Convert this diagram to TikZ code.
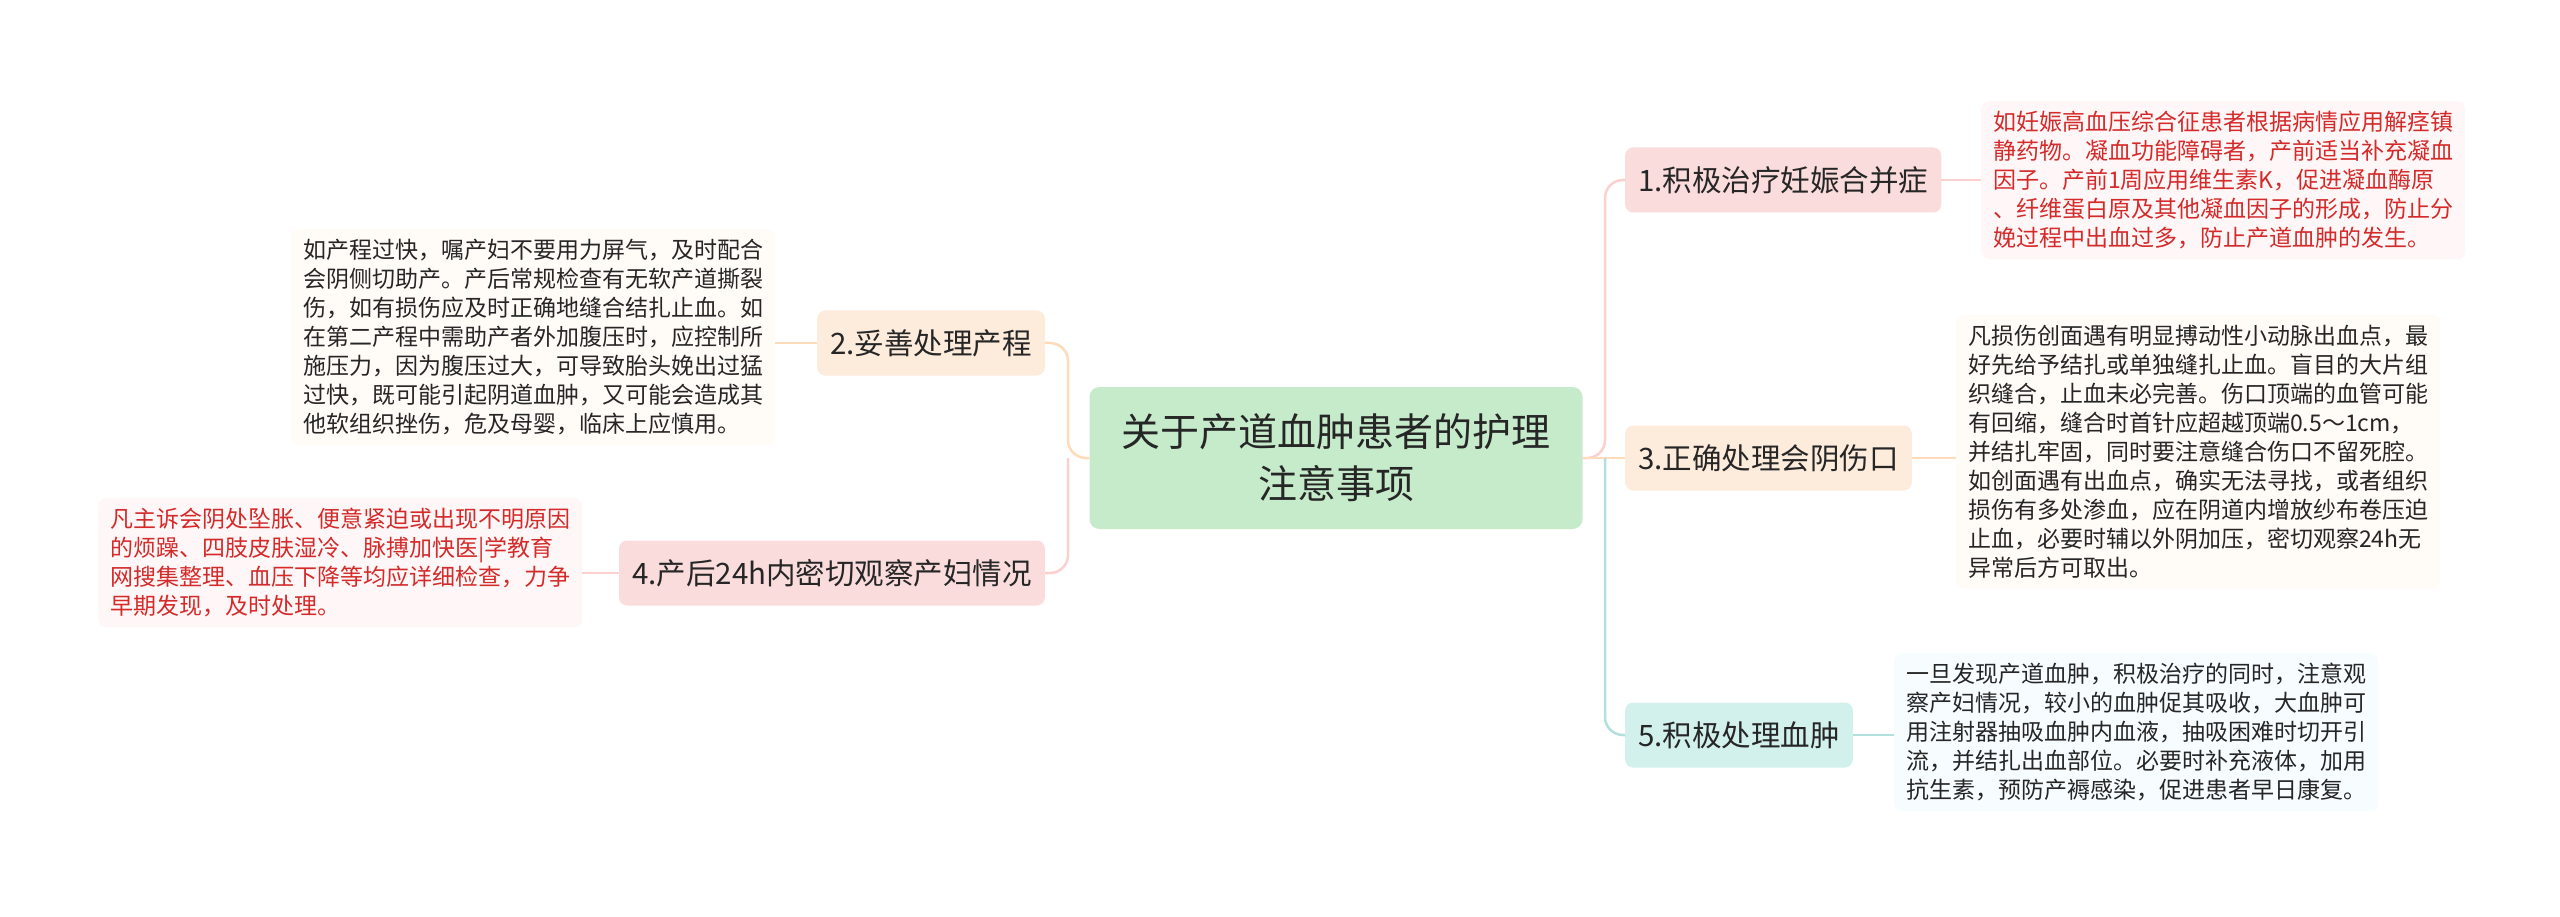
\documentclass[tikz,border=0pt]{standalone}
\usepackage{fontspec}
\setmainfont{Noto Sans CJK SC}
\begin{document}
\begin{tikzpicture}[x=1pt,y=-1pt,
  desc/.style={rounded corners=8pt,inner xsep=12pt,inner ysep=10pt,align=left,font=\fontsize{23}{29}\selectfont,anchor=north west},
  br/.style={rounded corners=8pt,minimum height=65pt,inner xsep=13pt,font=\fontsize{29.5}{32}\selectfont,text=black!85},
  cn/.style={line width=2.5pt,rounded corners=18pt}]
\fill[white] (0,0) rectangle (2560,917);
\useasboundingbox (0,0) rectangle (2560,917);
\definecolor{pinkf}{HTML}{FADCDD}
\definecolor{peachf}{HTML}{FDEBDC}
\definecolor{tealf}{HTML}{D2F1EC}
\definecolor{greenf}{HTML}{C6EBCB}
\definecolor{redt}{HTML}{D42A2A}
\node[rounded corners=10pt,fill=greenf,minimum width=493pt,minimum height=142pt,align=center,font=\fontsize{39}{52}\selectfont,text=black!85] (c) at (1336,458) {关于产道血肿患者的护理\\注意事项};
\node[br,fill=pinkf,anchor=west] (b1) at (1625,180) {1.积极治疗妊娠合并症};
\node[br,fill=peachf,anchor=west] (b3) at (1625,458) {3.正确处理会阴伤口};
\node[br,fill=tealf,anchor=west] (b5) at (1625,735) {5.积极处理血肿};
\node[br,fill=peachf,anchor=east] (b2) at (1045,343) {2.妥善处理产程};
\node[br,fill=pinkf,anchor=east] (b4) at (1045,573) {4.产后24h内密切观察产妇情况};
\node[desc,fill=red!3,text=redt] (d1) at (1981,101) {如妊娠高血压综合征患者根据病情应用解痉镇\\静药物。凝血功能障碍者，产前适当补充凝血\\因子。产前1周应用维生素K，促进凝血酶原\\、纤维蛋白原及其他凝血因子的形成，防止分\\娩过程中出血过多，防止产道血肿的发生。};
\node[desc,fill=orange!3,text=black!85] (d3) at (1956,315) {凡损伤创面遇有明显搏动性小动脉出血点，最\\好先给予结扎或单独缝扎止血。盲目的大片组\\织缝合，止血未必完善。伤口顶端的血管可能\\有回缩，缝合时首针应超越顶端0.5～1cm，\\并结扎牢固，同时要注意缝合伤口不留死腔。\\如创面遇有出血点，确实无法寻找，或者组织\\损伤有多处渗血，应在阴道内增放纱布卷压迫\\止血，必要时辅以外阴加压，密切观察24h无\\异常后方可取出。};
\node[desc,fill=cyan!3,text=black!85] (d5) at (1894,653) {一旦发现产道血肿，积极治疗的同时，注意观\\察产妇情况，较小的血肿促其吸收，大血肿可\\用注射器抽吸血肿内血液，抽吸困难时切开引\\流，并结扎出血部位。必要时补充液体，加用\\抗生素，预防产褥感染，促进患者早日康复。};
\node[desc,fill=orange!3,text=black!85] (d2) at (291,229) {如产程过快，嘱产妇不要用力屏气，及时配合\\会阴侧切助产。产后常规检查有无软产道撕裂\\伤，如有损伤应及时正确地缝合结扎止血。如\\在第二产程中需助产者外加腹压时，应控制所\\施压力，因为腹压过大，可导致胎头娩出过猛\\过快，既可能引起阴道血肿，又可能会造成其\\他软组织挫伤，危及母婴，临床上应慎用。};
\node[desc,fill=red!3,text=redt] (d4) at (98,498) {凡主诉会阴处坠胀、便意紧迫或出现不明原因\\的烦躁、四肢皮肤湿冷、脉搏加快医|学教育\\网搜集整理、血压下降等均应详细检查，力争\\早期发现，及时处理。};
\coordinate (rs) at (1605,458);
\coordinate (ls) at (1068,458);
\draw[cn,draw=pinkf!80!red!60] (c.east) -- (rs) |- (b1.west);
\draw[cn,draw=peachf!85!orange] (c.east) -- (b3.west);
\draw[cn,draw=tealf!85!teal] (rs) |- (b5.west);
\draw[cn,draw=peachf!85!orange] (c.west) -- (ls) |- (b2.east);
\draw[cn,draw=pinkf!80!red!60] (ls) |- (b4.east);
\draw[line width=2.5pt,draw=pinkf!80!red!60] (b1.east) -- (d1.west|-b1.east);
\draw[line width=2.5pt,draw=peachf!85!orange] (b3.east) -- (d3.west|-b3.east);
\draw[line width=2.5pt,draw=tealf!85!teal] (b5.east) -- (d5.west|-b5.east);
\draw[line width=2.5pt,draw=peachf!85!orange] (b2.west) -- (d2.east|-b2.west);
\draw[line width=2.5pt,draw=pinkf!80!red!60] (b4.west) -- (d4.east|-b4.west);
\end{tikzpicture}
\end{document}
